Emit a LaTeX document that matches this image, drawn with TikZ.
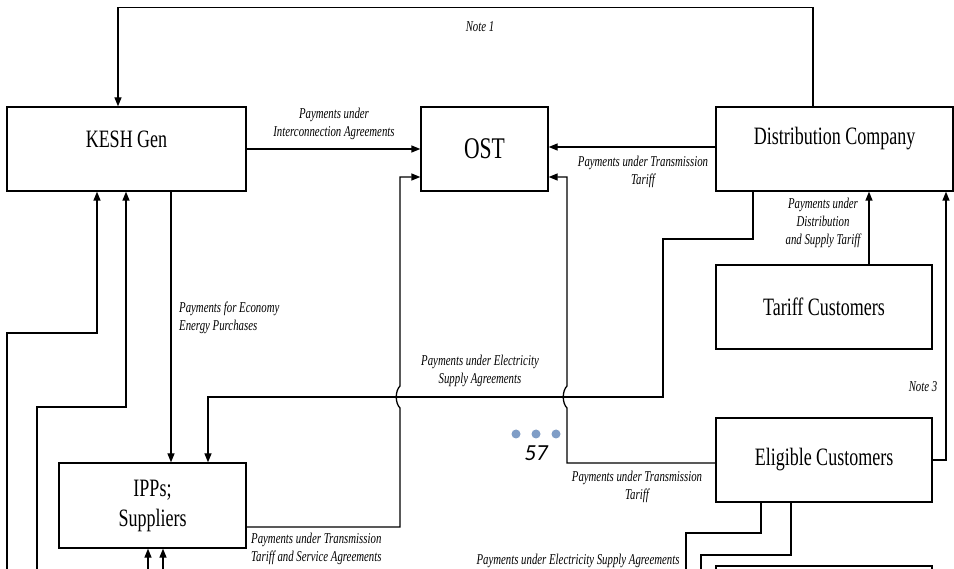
\documentclass[tikz,border=0pt]{standalone}
\usepackage{fontspec}
\setmainfont{Liberation Serif}[FakeStretch=0.72]
\newfontfamily\pagefont{Carlito}
\usepackage{xcolor}
\definecolor{colorDots}{HTML}{7F9DC6}
\usetikzlibrary{arrows.meta, positioning}
\tikzset{
  block/.style={draw, line width=1.3pt, minimum width=216pt, minimum height=84pt, inner sep=0pt, align=center, font=\fontsize{25}{30}\selectfont},
  payment/.style={font=\fontsize{15}{18}\selectfont\itshape, align=center, inner sep=0pt},
  flow/.style={line width=1.3pt}
}

\begin{document}
\begin{tikzpicture}[x=1pt, y=-1pt, >={Triangle[length=9pt,width=7pt]}]
\useasboundingbox (0,0) rectangle (954,569);
\clip (0,0) rectangle (954,569);
\node[block, minimum width=239pt] (kesh) at (126.5,149) {};
\node[block, minimum width=127pt, font=\fontsize{30}{36}\selectfont] (ost) at (484.5,149) {OST};
\node[block, minimum width=237pt] (dist) at (834.5,149) {};
\node at ([yshift=10pt]kesh.center) [font=\fontsize{25}{30}\selectfont] (keshText) {KESH Gen};
\node at ([yshift=10pt]dist.center) [font=\fontsize{25}{30}\selectfont] (distText) {Distribution Company};
\node[block] (tariff) at (824,307) {Tariff Customers};
\node[block] (elig) at (824,460) {\raisebox{-3pt}{Eligible Customers}};
\node[block, minimum width=187pt, minimum height=85pt] (ipps) at (152.5,505.5) {IPPs;\\Suppliers};
\node[block] (lowbox) at (824,608) {};
\coordinate (bottomA) at (7,575);
\coordinate (bottomB) at (37,575);
\coordinate (bottomC) at (148,575);
\coordinate (bottomD) at (163,575);
\coordinate (bottomE) at (686,575);
\coordinate (bottomF) at (701,575);
\draw[->, flow] ([xshift=-21.5pt]dist.north) -- ++(0,-99) -| ([xshift=-8.5pt]kesh.north);
\draw[->, flow] (kesh.east) -- (ost.west);
\draw[->, flow] ([yshift=2pt]dist.west) -- ([yshift=2pt]ost.east);
\draw[->, flow] ([yshift=-21.5pt]ipps.east) -- (400,527) -- (400,408) .. controls (395,403) and (395,391) .. (400,386) -- (400,177) -- ([yshift=-28pt]ost.west);
\draw[->, flow] ([yshift=-3pt]elig.west) -- (567,463) -- (567,408) .. controls (562,403) and (562,391) .. (567,386) -- (567,177) -- ([yshift=-28pt]ost.east);
\draw[->, flow] ([xshift=-81.5pt]dist.south) -- (753,239) -- (663,239) -- (663,397) -- (208,397) -- ([xshift=55.5pt]ipps.north);
\draw[->, flow] ([xshift=44.5pt]kesh.south) -- ([xshift=18.5pt]ipps.north);
\draw[->, flow] (bottomA) -- (7,333) -- (97,333) -- ([xshift=-29.5pt]kesh.south);
\draw[->, flow] (bottomB) -- (37,407) -- (126,407) -- ([xshift=-0.5pt]kesh.south);
\draw[->, flow] (bottomC) -- ([xshift=-4.5pt]ipps.south);
\draw[->, flow] (bottomD) -- ([xshift=10.5pt]ipps.south);
\draw[->, flow] ([xshift=45pt]tariff.north) -- ([xshift=34.5pt]dist.south);
\draw[->, flow] (elig.east) -- (946,460) -- ([xshift=111.5pt]dist.south);
\draw[flow] ([xshift=-63pt]elig.south) -- (761,533) -- (686,533) -- (bottomE);
\draw[flow] ([xshift=-33pt]elig.south) -- (791,555) -- (701,555) -- (bottomF);
\node[payment] (note1) at (480,27) {Note 1};
\node[payment] (interconn) at (334,124) {Payments under\\Interconnection Agreements};
\node[payment] (transDist) at (643,172) {Payments under Transmission\\Tariff};
\node[payment] (distTariff) at (823,223) {Payments under\\Distribution\\and Supply Tariff};
\node[payment, anchor=west, align=left] (economy) at (179,318) {Payments for Economy\\Energy Purchases};
\node[payment] (esaDist) at (480,371) {Payments under Electricity\\Supply Agreements};
\node[payment] (transElig) at (637,487) {Payments under Transmission\\Tariff};
\node[payment] (note3) at (923,387) {Note 3};
\node[payment, anchor=west, align=left] (transIpps) at (251,549) {Payments under Transmission\\Tariff and Service Agreements};
\node[payment] (esaElig) at (578,561) {Payments under Electricity Supply Agreements};
\foreach \dx in {516,536,556}
  \fill[colorDots] (\dx,434) circle (4.5pt);
\node[font=\pagefont\itshape\fontsize{23}{26}\selectfont, inner sep=0pt] (pageNo) at (536,453) {57};
\end{tikzpicture}
\end{document}
